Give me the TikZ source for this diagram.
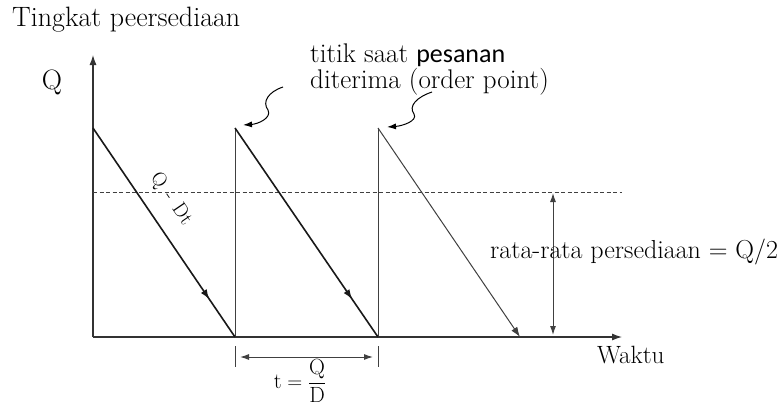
\documentclass[tikz,border=0pt]{standalone}
\usepackage{fontspec}
\newfontfamily\carlito{Carlito}
\usetikzlibrary{arrows.meta,calc}
\begin{document}
\begin{tikzpicture}[x=1pt,y=-1pt,
  lbl/.style={inner sep=0pt, font=\fontsize{26}{30}\selectfont},
  ax/.style={line width=1.1pt, draw=black!80},
  saw/.style={line width=1.6pt, draw=black!90},
  thin/.style={line width=1pt, draw=black!75},
  tip/.style={-{Latex[length=10pt,width=7pt]}},
  dtip/.style={{Latex[length=9pt,width=6pt]}-{Latex[length=9pt,width=6pt]}},
  curly/.style={line width=1pt, -{Latex[length=9pt,width=6pt]}}]
\useasboundingbox[fill=white] (0,0) rectangle (784,407);

% points
\coordinate (O) at (93,337);
\coordinate (Ytop) at (93,55);
\coordinate (Xend) at (622,337);
\coordinate (A1) at (93,128);
\coordinate (B1) at (235,337);
\coordinate (A2) at (235,128);
\coordinate (B2) at (378,337);
\coordinate (A3) at (378,128);
\coordinate (B3) at (520,337);
\coordinate (D0) at (93,192);
\coordinate (D1) at (622,192);
\coordinate (M0) at (553,193);
\coordinate (M1) at (553,335);
\coordinate (T1a) at (235,346);
\coordinate (T1b) at (235,367);
\coordinate (T2a) at (378,346);
\coordinate (T2b) at (378,367);
\coordinate (P0) at (240,357);
\coordinate (P1) at (373,357);

% axes
\draw[ax, tip] (O) -- (Ytop);
\draw[ax, tip] (O) -- (Xend);

% dashed average line
\draw[thin, dash pattern=on 4pt off 2.5pt] (D0) -- (D1);

% verticals
\draw[thin] (B1) -- (A2);
\draw[thin] (B2) -- (A3);

% sawtooth
\draw[saw, tip] (A1) -- ($(A1)!0.82!(B1)$);
\draw[saw] ($(A1)!0.8!(B1)$) -- (B1);
\draw[saw, tip] (A2) -- ($(A2)!0.82!(B2)$);
\draw[saw] ($(A2)!0.8!(B2)$) -- (B2);
\draw[thin, tip] (A3) -- (B3);

% average arrow
\draw[thin, dtip] (M0) -- (M1);

% period marks
\draw[thin] (T1a) -- (T1b);
\draw[thin] (T2a) -- (T2b);
\draw[thin, dtip] (P0) -- (P1);

% curly arrows
\coordinate (C1s) at (283,87);
\coordinate (C1m) at (268,110);
\coordinate (C1e) at (243,125);
\coordinate (C2s) at (432,92);
\coordinate (C2m) at (414,114);
\coordinate (C2e) at (387,127);
\draw[curly] (C1s) .. controls (268,92) and (262,102) .. (C1m) .. controls (272,118) and (258,124) .. (C1e);
\draw[curly] (C2s) .. controls (417,97) and (408,106) .. (C2m) .. controls (418,121) and (402,126) .. (C2e);

% labels
\node[lbl, anchor=west, font=\fontsize{28}{30}\selectfont] (title) at (12,20) {Tingkat peersediaan};
\node[lbl, font=\fontsize{28}{30}\selectfont] (qlab) at (52,82) {Q};
\node[lbl, anchor=west, font=\fontsize{27}{30}\selectfont] (op1) at (310,55) {titik saat\ {\carlito\fontsize{26}{28}\selectfont pesanan}};
\node[lbl, anchor=west, font=\fontsize{27}{30}\selectfont] (op2) at (310,82) {diterima (order point)};
\node[lbl, rotate=-55.8, font=\fontsize{20}{24}\selectfont] (qdt) at (171,199) {Q\hspace{9pt}-\hspace{9pt}Dt};
\node[lbl, anchor=west] (avg) at (490,252) {rata-rata persediaan = Q/2};
\node[lbl, anchor=west, font=\fontsize{25}{28}\selectfont] (waktu) at (597,355) {Waktu};
\node[lbl, font=\fontsize{22}{26}\selectfont] (tform) at (300,381) {$\mathrm{t} = \displaystyle\frac{\mathrm{Q}}{\mathrm{D}}$};
\end{tikzpicture}
\end{document}
